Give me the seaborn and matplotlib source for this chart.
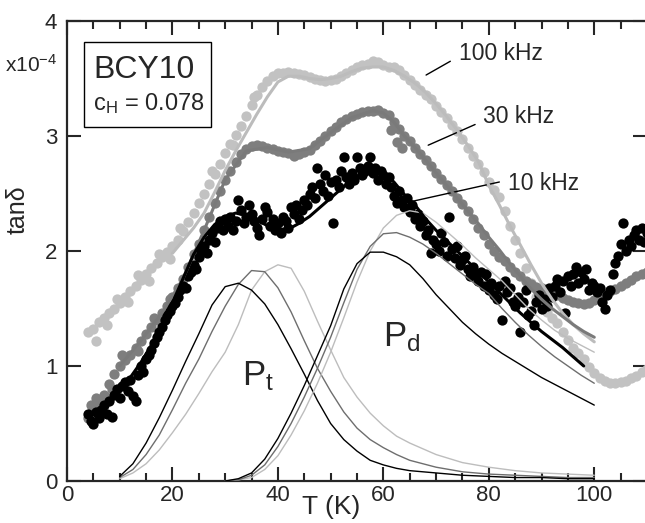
import matplotlib
matplotlib.use("Agg")
import matplotlib.pyplot as plt
import seaborn as sns
import pandas as pd
from matplotlib.patches import Rectangle
from matplotlib.ticker import MultipleLocator

# ---- measured tan(delta) data (x1e-4) ----
T_100 = [4, 5, 6, 7, 8, 9, 10, 11, 12, 13, 14, 15, 16, 17, 18, 19, 20, 21, 22, 23, 24, 25, 26, 27, 28, 29,
         30, 31, 32, 33, 34, 35, 36, 37, 38, 39, 40, 41, 42, 43, 44, 45, 46, 47, 48, 49, 50, 51, 52, 53, 54,
         55, 56, 57, 58, 59, 60, 61, 62, 63, 64, 65, 66, 67, 68, 69, 70, 71, 72, 73, 74, 75, 76, 77, 78, 79,
         80, 81, 82, 83, 84, 85, 86, 87, 88, 89, 90, 91, 92, 93, 94, 95, 96, 97, 98, 99, 100, 101, 102, 103,
         104, 105, 106, 107, 108, 109, 110,
         5.5, 7.5, 9.5, 11.5, 13.5, 15.5, 17.5, 19.5, 21.5, 27.5, 31.5, 35.5]
y_100 = [1.30, 1.32, 1.38, 1.42, 1.46, 1.50, 1.55, 1.60, 1.65, 1.70, 1.75, 1.80, 1.85, 1.90, 1.95, 1.99,
         2.04, 2.10, 2.17, 2.25, 2.33, 2.42, 2.50, 2.58, 2.67, 2.76, 2.85, 2.93, 3.01, 3.09, 3.17, 3.27,
         3.36, 3.43, 3.48, 3.52, 3.55, 3.55, 3.56, 3.55, 3.54, 3.53, 3.51, 3.50, 3.49, 3.48, 3.49, 3.50,
         3.52, 3.55, 3.57, 3.60, 3.62, 3.63, 3.65, 3.64, 3.62, 3.60, 3.60, 3.57, 3.53, 3.49, 3.44, 3.40,
         3.36, 3.32, 3.26, 3.21, 3.16, 3.10, 3.04, 2.97, 2.90, 2.83, 2.76, 2.69, 2.60, 2.53, 2.47, 2.35,
         2.22, 2.10, 1.98, 1.85, 1.72, 1.60, 1.52, 1.47, 1.42, 1.37, 1.30, 1.23, 1.16, 1.11, 1.06, 0.99,
         0.94, 0.90, 0.87, 0.85, 0.85, 0.86, 0.87, 0.90, 0.91, 0.95, 0.97,
         1.22, 1.36, 1.58, 1.56, 1.79, 1.74, 1.97, 1.93, 2.20, 2.70, 2.92, 3.34]

T_30 = [4, 5, 6, 7, 8, 9, 10, 11, 12, 13, 14, 15, 16, 17, 18, 19, 20, 21, 22, 23, 24, 25, 26, 27, 28, 29,
        30, 31, 32, 33, 34, 35, 36, 37, 38, 39, 40, 41, 42, 43, 44, 45, 46, 47, 48, 49, 50, 51, 52, 53, 54,
        55, 56, 57, 58, 59, 60, 61, 62, 63, 64, 65, 66, 67, 68, 69, 70, 71, 72, 73, 74, 75, 76, 77, 78, 79,
        80, 81, 82, 83, 84, 85, 86, 87, 88, 89, 90, 91, 92, 93, 94, 95, 96, 97, 98, 99, 100, 101, 102, 103,
        104, 105, 106, 107, 108, 109, 110, 61.5, 62.5, 63.5,
        4.5, 5.5, 8.5, 10.5, 13.5, 16.5, 19.5]
y_30 = [0.55, 0.62, 0.68, 0.75, 0.84, 0.93, 1.00, 1.05, 1.10, 1.16, 1.22, 1.28, 1.34, 1.40, 1.46, 1.52,
        1.60, 1.68, 1.76, 1.86, 1.97, 2.06, 2.18, 2.30, 2.42, 2.52, 2.62, 2.70, 2.77, 2.84, 2.89, 2.91,
        2.92, 2.91, 2.90, 2.89, 2.87, 2.86, 2.85, 2.83, 2.84, 2.86, 2.88, 2.92, 2.96, 3.00, 3.04, 3.08,
        3.12, 3.15, 3.17, 3.19, 3.21, 3.22, 3.22, 3.23, 3.20, 3.18, 3.12, 3.06, 3.00, 2.96, 2.90, 2.84,
        2.79, 2.74, 2.68, 2.63, 2.57, 2.52, 2.46, 2.41, 2.35, 2.28, 2.20, 2.14, 2.06, 2.00, 1.95, 1.91,
        1.86, 1.82, 1.78, 1.74, 1.71, 1.69, 1.68, 1.66, 1.64, 1.62, 1.59, 1.57, 1.56, 1.55, 1.54, 1.55,
        1.57, 1.60, 1.62, 1.65, 1.67, 1.70, 1.72, 1.75, 1.78, 1.80, 1.82, 3.05, 2.95, 2.90,
        0.66, 0.72, 0.80, 1.10, 1.13, 1.42, 1.58]

T_10 = [4.0, 4.5, 5.0, 5.5, 6.0, 6.5, 7.0, 7.5, 8.0, 8.5, 9.0, 9.5, 10.0, 10.5, 11.0, 11.5, 12.0, 12.5,
        13.0, 13.5, 14.0, 14.5, 15.0, 15.5, 16.0, 16.5, 17.0, 17.5, 18.0, 18.5, 19.0, 19.5, 20.0, 20.5,
        21.0, 21.5, 22.0, 22.5, 23.0, 23.5, 24.0, 24.5, 25.0, 25.5, 26.0, 26.5, 27.0, 27.5, 28.0, 28.5,
        29.0, 29.5, 30.0, 30.5, 31.0, 31.5, 32.0, 32.5, 33.0, 33.5, 34.0, 34.5, 35.0, 35.5, 36.0, 36.5,
        37.0, 37.5, 38.0, 38.5, 39.0, 39.5, 40.0, 40.5, 41.0, 41.5, 42.0, 42.5, 43.0, 43.5, 44.0, 44.5,
        45.0, 45.5, 46.0, 46.5, 47.0, 47.5, 48.0, 48.5, 49.0, 49.5, 50.0, 50.5, 51.0, 51.5, 52.0, 52.5,
        53.0, 53.5, 54.0, 54.5, 55.0, 55.5, 56.0, 56.5, 57.0, 57.5, 58.0, 58.5, 59.0, 59.5, 60.0, 60.5,
        61.0, 61.5, 62.0, 62.5, 63.0, 63.5, 64.0, 64.5, 65.0, 65.5, 66.0, 66.5, 67.0, 67.5, 68.0, 68.5,
        69.0, 69.5, 70.0, 70.5, 71.0, 71.5, 72.0, 72.5, 73.0, 73.5, 74.0, 74.5, 75.0, 75.5, 76.0, 76.5,
        77.0, 77.5, 78.0, 78.5, 79.0, 79.5, 80.0, 80.5, 81.0, 81.5, 82.0, 82.5, 83.0, 83.5, 84.0, 84.5,
        85.0, 85.5, 86.0, 86.5, 87.0, 87.5, 88.0, 88.5, 89.0, 89.5, 90.0, 90.5, 91.0, 91.5, 92.0, 92.5,
        93.0, 93.5, 94.0, 94.5, 95.0, 95.5, 96.0, 96.5, 97.0, 97.5, 98.0, 98.5, 99.0, 99.5, 100.0, 100.5,
        101.0, 101.5, 102.0, 102.5, 103.0, 103.5, 104.0, 104.5, 105.0, 105.5, 106.0, 106.5, 107.0, 107.5,
        108.0, 108.5, 109.0, 109.5, 110.0]
y_10 = [0.58, 0.52, 0.50, 0.60, 0.55, 0.62, 0.66, 0.58, 0.70, 0.56, 0.75, 0.80, 0.72, 0.83, 0.86, 0.78,
        0.88, 0.74, 0.70, 0.92, 1.00, 0.95, 1.06, 1.10, 1.14, 1.20, 1.25, 1.30, 1.34, 1.40, 1.44, 1.48,
        1.52, 1.55, 1.60, 1.66, 1.70, 1.68, 1.78, 1.82, 1.88, 1.84, 1.95, 2.00, 2.04, 1.98, 2.10, 2.16,
        2.08, 2.20, 2.26, 2.18, 2.28, 2.22, 2.30, 2.18, 2.26, 2.44, 2.36, 2.24, 2.30, 2.40, 2.32, 2.26,
        2.20, 2.14, 2.28, 2.38, 2.34, 2.22, 2.28, 2.18, 2.24, 2.16, 2.30, 2.26, 2.20, 2.38, 2.32, 2.40,
        2.28, 2.36, 2.44, 2.40, 2.50, 2.56, 2.46, 2.72, 2.58, 2.52, 2.66, 2.48, 2.60, 2.24, 2.62, 2.56,
        2.70, 2.82, 2.64, 2.58, 2.68, 2.62, 2.82, 2.72, 2.66, 2.70, 2.74, 2.82, 2.68, 2.72, 2.62, 2.70,
        2.66, 2.58, 2.64, 2.56, 2.48, 2.42, 2.52, 2.44, 2.38, 2.46, 2.34, 2.40, 2.28, 2.32, 2.22, 2.26,
        2.14, 2.18, 1.98, 2.10, 2.06, 2.00, 2.16, 2.08, 1.96, 2.30, 2.02, 1.94, 2.04, 1.88, 1.92, 1.96,
        1.84, 1.78, 1.86, 1.80, 1.74, 1.82, 1.70, 1.80, 1.66, 1.72, 1.62, 1.58, 1.70, 1.40, 1.74, 1.64,
        1.68, 1.56, 1.52, 1.60, 1.30, 1.56, 1.66, 1.44, 1.48, 1.36, 1.56, 1.62, 1.50, 1.58, 1.52, 1.68,
        1.60, 1.70, 1.76, 1.64, 1.74, 1.46, 1.78, 1.70, 1.80, 1.86, 1.72, 1.82, 1.76, 1.84, 1.66, 1.72,
        1.70, 1.64, 1.68, 1.56, 1.50, 1.62, 1.66, 1.80, 1.90, 1.96, 2.06, 2.24, 2.00, 2.10, 2.04, 2.14,
        2.18, 2.10, 2.20, 2.08, 2.16]

# ---- total fits (thick lines) ----
T_fit10 = [10.5, 12, 14, 16, 18, 20, 22, 24, 26, 28, 30, 32, 34, 36, 38, 40, 42, 44, 46, 48, 50, 52, 54,
           56, 58, 60, 62, 64, 66, 68, 70, 72, 74, 76, 78, 80, 82, 84, 86, 88, 90, 92, 94, 96, 98]
y_fit10 = [0.80, 0.90, 1.03, 1.18, 1.36, 1.55, 1.76, 1.97, 2.12, 2.23, 2.30, 2.33, 2.31, 2.27, 2.22, 2.19,
           2.19, 2.24, 2.30, 2.38, 2.46, 2.54, 2.62, 2.68, 2.71, 2.68, 2.60, 2.49, 2.40, 2.28, 2.18, 2.09,
           2.00, 1.91, 1.82, 1.73, 1.64, 1.55, 1.46, 1.38, 1.30, 1.23, 1.16, 1.08, 1.00]
T_fit30 = [10, 14, 18, 22, 26, 30, 34, 38, 42, 46, 50, 54, 58, 60, 62, 64, 66, 68, 70, 72, 74, 76, 78, 80,
           82, 84, 86, 88, 90, 92, 94, 96, 98, 100]
y_fit30 = [1.00, 1.22, 1.46, 1.76, 2.18, 2.62, 2.87, 2.90, 2.86, 2.89, 3.03, 3.16, 3.22, 3.20, 3.12, 3.00,
           2.90, 2.79, 2.68, 2.57, 2.46, 2.35, 2.24, 2.12, 2.01, 1.89, 1.78, 1.67, 1.58, 1.50, 1.43, 1.36,
           1.30, 1.25]
T_fit100 = [20, 22, 24, 26, 28, 30, 32, 34, 36, 38, 40, 42, 44, 46, 48, 50, 52, 54, 56, 58, 60, 62, 64,
            66, 68, 70, 72, 74, 76, 78, 80, 82, 84, 86, 88, 90, 92, 94, 96, 98, 100]
y_fit100 = [1.98, 2.09, 2.20, 2.33, 2.51, 2.70, 2.87, 3.03, 3.19, 3.34, 3.47, 3.52, 3.52, 3.50, 3.49, 3.50,
            3.52, 3.56, 3.59, 3.60, 3.60, 3.57, 3.52, 3.46, 3.38, 3.28, 3.17, 3.05, 2.92, 2.78, 2.57, 2.40,
            2.22, 2.05, 1.88, 1.72, 1.58, 1.46, 1.36, 1.28, 1.21]

# ---- components Pt and Pd (thin lines) ----
T_pt = [10, 12.5, 15, 17.5, 20, 22.5, 25, 27.5, 30, 32.5, 35, 37.5, 40, 42.5, 45, 47.5, 50, 52.5, 55,
        57.5, 60, 62.5, 65, 70, 75, 80, 85, 90, 95, 100]
pt_10 = [0.04, 0.15, 0.33, 0.55, 0.79, 1.04, 1.28, 1.53, 1.69, 1.72, 1.66, 1.54, 1.36, 1.15, 0.93, 0.70,
         0.50, 0.36, 0.26, 0.18, 0.14, 0.11, 0.09, 0.07, 0.05, 0.04, 0.03, 0.03, 0.02, 0.02]
pt_30 = [0.03, 0.10, 0.23, 0.40, 0.62, 0.85, 1.06, 1.30, 1.52, 1.71, 1.83, 1.82, 1.68, 1.47, 1.22, 0.98,
         0.78, 0.60, 0.46, 0.36, 0.29, 0.23, 0.18, 0.12, 0.08, 0.06, 0.05, 0.04, 0.03, 0.03]
pt_100 = [0.02, 0.07, 0.15, 0.27, 0.42, 0.58, 0.76, 0.95, 1.12, 1.36, 1.66, 1.82, 1.88, 1.85, 1.65, 1.39,
          1.14, 0.90, 0.73, 0.59, 0.48, 0.39, 0.33, 0.23, 0.16, 0.12, 0.09, 0.07, 0.06, 0.05]

T_pd = [30, 32.5, 35, 37.5, 40, 42.5, 45, 47.5, 50, 52.5, 55, 57.5, 60, 62.5, 65, 67.5, 70, 72.5, 75,
        77.5, 80, 82.5, 85, 87.5, 90, 92.5, 95, 97.5, 100]
pd_10 = [0.00, 0.02, 0.07, 0.19, 0.37, 0.59, 0.83, 1.09, 1.35, 1.67, 1.89, 1.99, 1.99, 1.95, 1.88, 1.76,
         1.62, 1.50, 1.38, 1.28, 1.19, 1.11, 1.04, 0.97, 0.90, 0.84, 0.78, 0.72, 0.66]
pd_30 = [0.00, 0.01, 0.05, 0.14, 0.30, 0.50, 0.73, 0.98, 1.25, 1.55, 1.84, 2.04, 2.15, 2.16, 2.12, 2.06,
         1.98, 1.89, 1.80, 1.71, 1.63, 1.50, 1.38, 1.27, 1.17, 1.08, 1.00, 0.92, 0.85]
pd_100 = [0.00, 0.01, 0.03, 0.10, 0.22, 0.40, 0.61, 0.85, 1.12, 1.42, 1.73, 2.00, 2.20, 2.31, 2.35, 2.33,
          2.25, 2.15, 2.05, 1.94, 1.84, 1.74, 1.62, 1.50, 1.40, 1.31, 1.24, 1.18, 1.12]

C_100 = "#c2c2c2"
C_30 = "#7e7e7e"
C_10 = "#000000"

sns.set_style("ticks")
plt.rcParams["font.family"] = ["Liberation Sans", "DejaVu Sans"]
plt.rcParams["mathtext.fontset"] = "custom"
plt.rcParams["mathtext.rm"] = "Liberation Sans"
plt.rcParams["mathtext.it"] = "Liberation Sans:italic"

fig = plt.figure(figsize=(6.45, 5.23), dpi=100)
ax = fig.add_axes([67 / 645, 42 / 523, 580 / 645, 460 / 523])

# data points
for T, y, c in [(T_100, y_100, C_100), (T_30, y_30, C_30), (T_10, y_10, C_10)]:
    sns.scatterplot(x=T, y=y, color=c, s=55, linewidth=0, ax=ax, zorder=2)

# thin component curves
for T, y, c in [(T_pt, pt_100, "#bdbdbd"), (T_pt, pt_30, "#6e6e6e"), (T_pt, pt_10, "black"),
                (T_pd, pd_100, "#bdbdbd"), (T_pd, pd_30, "#6e6e6e"), (T_pd, pd_10, "black")]:
    sns.lineplot(x=T, y=y, color=c, lw=1.0, estimator=None, sort=False, ax=ax, zorder=3)

# fits
for T, y, c in [(T_fit100, y_fit100, "#bcbcbc"), (T_fit30, y_fit30, "#7a7a7a"), (T_fit10, y_fit10, "black")]:
    sns.lineplot(x=T, y=y, color=c, lw=2.2, estimator=None, sort=False, ax=ax, zorder=4)

ax.set_xlim(0, 110)
ax.set_ylim(0, 4)
ax.xaxis.set_major_locator(MultipleLocator(20))
ax.xaxis.set_minor_locator(MultipleLocator(5))
ax.yaxis.set_major_locator(MultipleLocator(1))
ax.tick_params(which="both", direction="in", top=True, right=True, width=1.5, labelsize=16)
ax.tick_params(which="major", length=10)
ax.tick_params(which="minor", length=5.5)
ax.tick_params(axis="y", pad=7)
ax.tick_params(axis="x", pad=3)
for sp in ax.spines.values():
    sp.set_linewidth(1.6)

ax.set_xlabel("T (K)", fontsize=19)
ax.xaxis.set_label_coords(0.455, -0.03)
ax.set_ylabel("tan\u03b4", fontsize=18)
ax.yaxis.set_label_coords(-0.065, 0.59)

fig.text(5 / 645, 1 - 72 / 523, r"x10$^{\mathrm{-4}}$", fontsize=15)

# sample box
ax.add_patch(Rectangle((0.0293, 0.770), 0.219, 0.184, transform=ax.transAxes,
                       fill=False, lw=1.0, ec="black", zorder=5))
ax.text(0.045, 0.876, "BCY10", transform=ax.transAxes, fontsize=23, va="baseline")
ax.text(0.045, 0.807, r"c$_{\mathrm{H}}$ = 0.078", transform=ax.transAxes, fontsize=17, va="baseline")

# frequency labels
for txt, xt, yt, x0, y0, x1, y1 in [("100 kHz", 74.4, 3.72, 72.7, 3.65, 68.1, 3.53),
                                    ("30 kHz", 78.9, 3.17, 77.4, 3.10, 68.5, 2.92),
                                    ("10 kHz", 83.7, 2.59, 82.0, 2.60, 65.3, 2.43)]:
    ax.text(xt, yt, txt, fontsize=16.5, va="center")
    ax.plot([x0, x1], [y0, y1], color="black", lw=1.0)

ax.text(33.2, 0.835, r"P$_{\mathrm{t}}$", fontsize=25, va="baseline")
ax.text(60.0, 1.17, r"P$_{\mathrm{d}}$", fontsize=25, va="baseline")

fig.savefig("out.png", dpi=100)
